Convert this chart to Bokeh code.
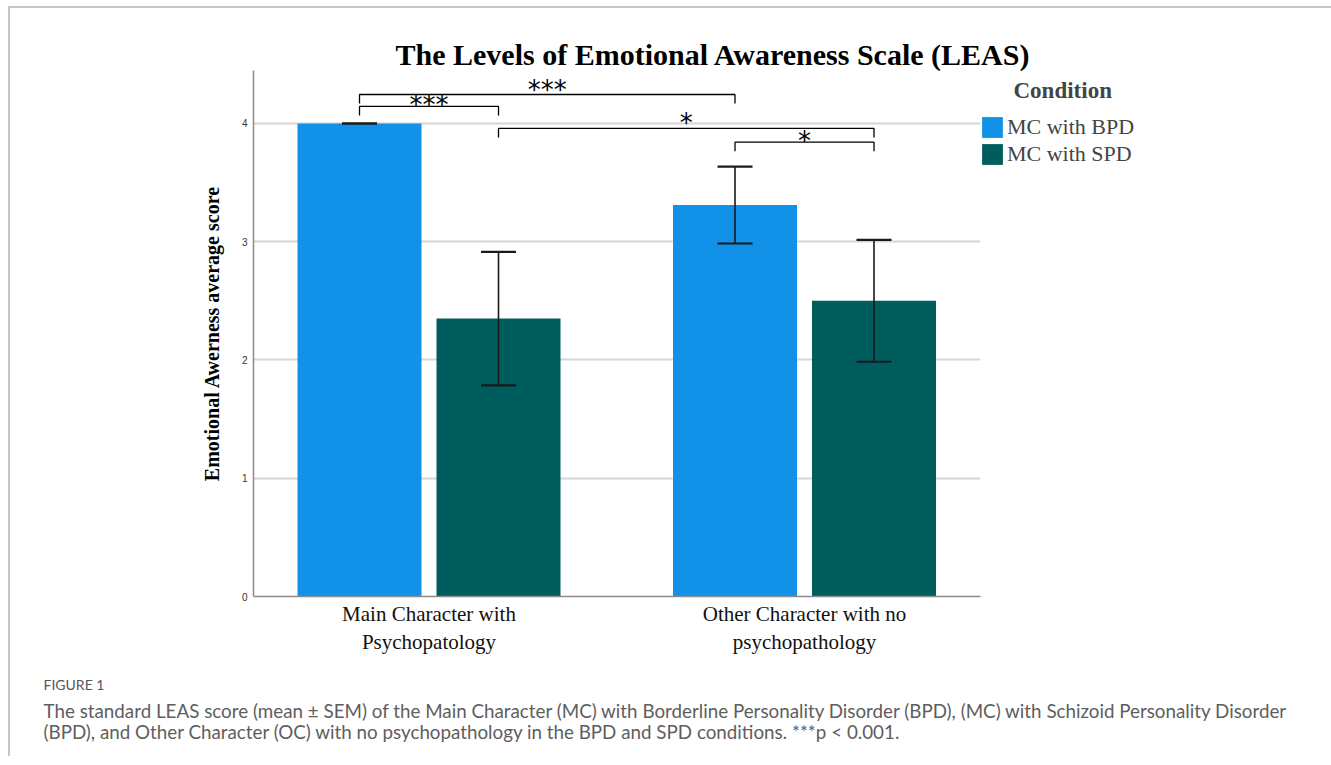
from bokeh.plotting import figure
from bokeh.models import (ColumnDataSource, Range1d, FixedTicker, Whisker, TeeHead,
                          Legend, LegendItem, Title)
from bokeh.embed import file_html
from bokeh.resources import INLINE
from bokeh.core.properties import value

# ---------------- data ----------------
categories = ["Main Character with\nPsychopatology", "Other Character with no\npsychopathology"]
conditions = ["MC with BPD", "MC with SPD"]
bpd_mean = [4.00, 3.31]
bpd_sem = [0.00, 0.325]
spd_mean = [2.35, 2.50]
spd_sem = [0.565, 0.515]
colors = ["#1192e8", "#005d5d"]
y_ticks = [0, 1, 2, 3, 4]

# significance brackets (bar order: MC-BPD, MC-SPD, OC-BPD, OC-SPD)
br_from = [0, 0, 1, 2]
br_to = [1, 2, 3, 3]
br_height = [4.144, 4.245, 3.958, 3.842]
br_label = ["***", "***", "*", "*"]
br_text_y = [4.19, 4.32, 4.034, 3.885]

title_text = "The Levels of Emotional Awareness Scale (LEAS)"
legend_title = "Condition"
y_label = "Emotional Awerness average score"
cap_head = "FIGURE 1"
cap_line1 = ("The standard LEAS score (mean \u00b1 SEM) of the Main Character (MC) with Borderline "
             "Personality Disorder (BPD), (MC) with Schizoid Personality Disorder")
cap_line2 = ("(BPD), and Other Character (OC) with no psychopathology in the BPD and SPD "
             "conditions. ***p < 0.001.")

# ---------------- figure ----------------
SERIF = "Liberation Serif"
group_pos = [1, 2]
dodge = 0.18509
bar_w = 0.33023

p = figure(frame_width=727, frame_height=526,
           min_border_left=243, min_border_right=350,
           min_border_top=62, min_border_bottom=160,
           x_range=Range1d(0.5326, 2.4687), y_range=Range1d(0, 4.448),
           output_backend="svg", toolbar_location=None,
           outline_line_color=None, background_fill_color="white",
           border_fill_color="white")
p.styles = {"margin-left": "8px", "margin-top": "6px",
            "border-top": "2px solid #c6c6c6", "border-left": "2px solid #c6c6c6"}

# title
p.title.text = title_text
p.title.text_font = SERIF
p.title.text_font_size = "30px"
p.title.text_font_style = "bold"
p.title.text_color = "black"
p.title.align = "left"
p.title.offset = 142
p.title.standoff = 0

# grid / axes
p.xgrid.visible = False
p.ygrid.grid_line_color = "#d6d6d6"
p.ygrid.grid_line_width = 2

p.yaxis.ticker = FixedTicker(ticks=y_ticks)
p.yaxis.axis_line_color = "#8c8c8c"
p.yaxis.axis_line_width = 1.5
p.yaxis.major_tick_line_color = None
p.yaxis.major_tick_out = 0
p.yaxis.major_tick_in = 0
p.yaxis.minor_tick_line_color = None
p.yaxis.major_label_text_font = "Liberation Sans"
p.yaxis.major_label_text_font_size = "10px"
p.yaxis.major_label_text_color = "#333333"
p.yaxis.major_label_standoff = 6
p.yaxis.axis_label = y_label
p.yaxis.axis_label_text_font = SERIF
p.yaxis.axis_label_text_font_style = "bold"
p.yaxis.axis_label_text_font_size = "20px"
p.yaxis.axis_label_text_color = "black"
p.yaxis.axis_label_standoff = 16

p.xaxis.ticker = FixedTicker(ticks=group_pos)
p.xaxis.major_label_overrides = {g: c for g, c in zip(group_pos, categories)}
p.xaxis.axis_line_color = "#8c8c8c"
p.xaxis.axis_line_width = 1.5
p.xaxis.major_tick_line_color = None
p.xaxis.major_tick_out = 0
p.xaxis.major_tick_in = 0
p.xaxis.minor_tick_line_color = None
p.xaxis.major_label_text_font = SERIF
p.xaxis.major_label_text_font_size = "21px"
p.xaxis.major_label_text_color = "#111111"
p.xaxis.major_label_standoff = 5

# bars
renderers = []
bar_x_all = []
means_all = []
sems_all = []
for k, (cond, means, sems, col) in enumerate(zip(conditions, [bpd_mean, spd_mean], [bpd_sem, spd_sem], colors)):
    off = -dodge if k == 0 else dodge
    xs = [g + off for g in group_pos]
    src = ColumnDataSource(dict(x=xs, top=means, cond=[cond] * len(xs)))
    r = p.vbar(x="x", top="top", width=bar_w, source=src, fill_color=col, line_color=None)
    renderers.append(r)
    bar_x_all.append(xs)
    means_all.append(means)
    sems_all.append(sems)

# error bars
ex, eu, el = [], [], []
for xs, ms, ss in zip(bar_x_all, means_all, sems_all):
    for x, m, s in zip(xs, ms, ss):
        ex.append(x); eu.append(m + s); el.append(m - s)
esrc = ColumnDataSource(dict(x=ex, upper=eu, lower=el))
wk = Whisker(source=esrc, base="x", upper="upper", lower="lower",
             line_color="#1a1a1a", line_width=1.6, level="overlay",
             upper_head=TeeHead(size=35, line_color="#1a1a1a", line_width=2.2),
             lower_head=TeeHead(size=35, line_color="#1a1a1a", line_width=2.2))
p.add_layout(wk)

# significance brackets
bar_order = [bar_x_all[0][0], bar_x_all[1][0], bar_x_all[0][1], bar_x_all[1][1]]
leg = 0.076
bxs, bys, tx = [], [], []
for a, b, h in zip(br_from, br_to, br_height):
    x0, x1 = bar_order[a], bar_order[b]
    bxs.append([x0, x0, x1, x1])
    bys.append([h - leg, h, h, h - leg])
    tx.append((x0 + x1) / 2)
p.multi_line(xs=bxs, ys=bys, line_color="black", line_width=1.3)
tsrc = ColumnDataSource(dict(x=tx, y=br_text_y, t=br_label))
p.text(x="x", y="y", text="t", source=tsrc, text_align="center", text_baseline="alphabetic",
       y_offset=4, text_font=value("DejaVu Sans"), text_font_size="26px", text_color="black")

# legend (right side panel)
legend = Legend(items=[LegendItem(label=c, renderers=[r]) for c, r in zip(conditions, renderers)],
                title="\u00a0" * 6 + legend_title, location=(-1, 429))
legend.title_text_font = SERIF
legend.title_text_font_style = "bold"
legend.title_text_font_size = "23px"
legend.title_standoff = 10
legend.label_text_font = SERIF
legend.label_text_font_size = "22px"
legend.glyph_width = 26
legend.glyph_height = 26
legend.label_height = 21
legend.spacing = 1
legend.padding = 0
legend.margin = 0
legend.label_standoff = 2
legend.border_line_color = None
legend.background_fill_alpha = 0
p.add_layout(legend, "right")

# caption (below the x axis)
for txt, size, col, so in [(cap_head, "14px", "#555555", 32),
                           (cap_line1, "18.8px", "#5e5e5e", -27),
                           (cap_line2, "18.8px", "#5e5e5e", 19)]:
    t = Title(text=txt, align="left", offset=-210, text_font="Lato", text_font_size=size,
              text_color=col, text_font_style="normal", standoff=so)
    p.add_layout(t, "below")

open("out.html", "w").write(file_html(p, INLINE))
